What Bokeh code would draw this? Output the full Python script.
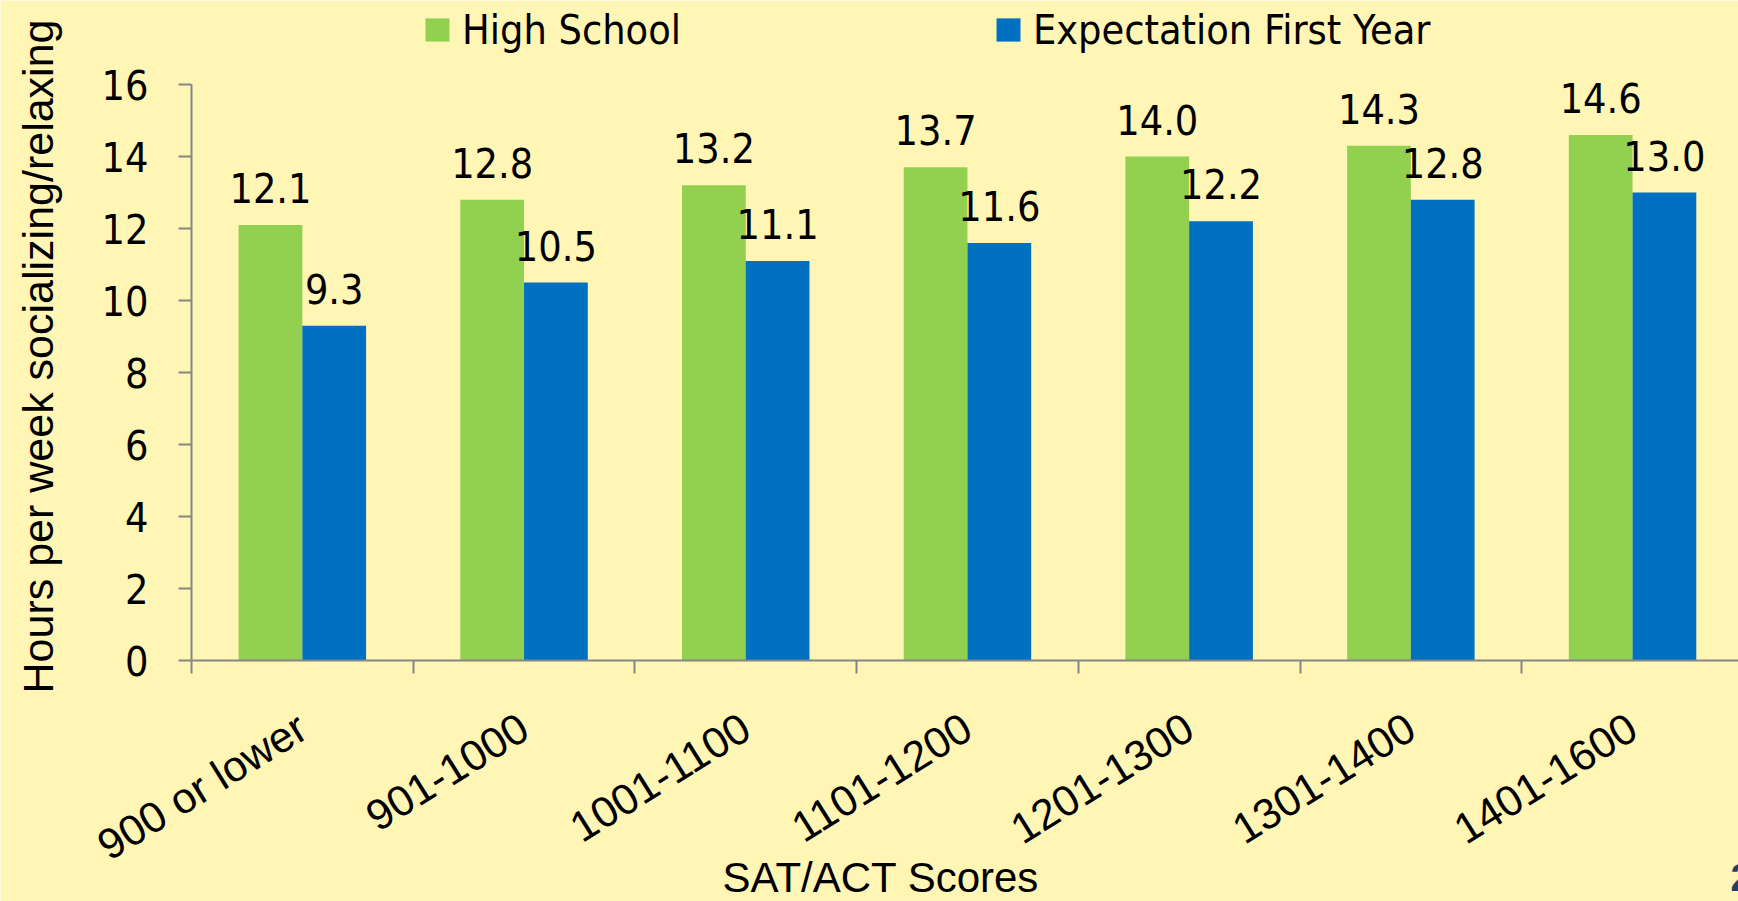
import math
from bokeh.plotting import figure
from bokeh.models import Range1d, FixedTicker, Legend, LegendItem, Label
from bokeh.embed import file_html
from bokeh.resources import INLINE
from bokeh.core.properties import value

categories = ["900 or lower", "901-1000", "1001-1100", "1101-1200",
              "1201-1300", "1301-1400", "1401-1600"]
high_school = [12.1, 12.8, 13.2, 13.7, 14.0, 14.3, 14.6]
expectation = [9.3, 10.5, 11.1, 11.6, 12.2, 12.8, 13.0]
y_ticks = [0, 2, 4, 6, 8, 10, 12, 14, 16]
series_names = ["High School", "Expectation First Year"]
x_title = "SAT/ACT Scores"
y_title = "Hours per week socializing/relaxing"
slide_number = "2"

BG = "#FFF5B5"
GREEN = "#92D050"
BLUE = "#0070C0"
AXIS = "#868686"
NUM_FONT = "DejaVu Sans Condensed"
TXT_FONT = "Liberation Sans"

W, H = 1738, 901
AX_LEFT, AX_BOTTOM, AX_TOP = 191, 660, 84     # pixel layout of the value/category axes
CAT_PX = 221.7                                # pixels per category
Y_PX = (AX_BOTTOM - AX_TOP) / 16              # pixels per hour

bar_w = 0.2875
centers = [i + 0.5 for i in range(len(categories))]
hs_x = [c - bar_w / 2 for c in centers]
ex_x = [c + bar_w / 2 for c in centers]

x_end = (W - AX_LEFT) / CAT_PX
p = figure(width=W, height=H, output_backend="svg", toolbar_location=None,
           x_range=Range1d(-AX_LEFT / CAT_PX, x_end),
           y_range=Range1d(-(H - AX_BOTTOM) / Y_PX, 16 + AX_TOP / Y_PX),
           min_border_left=0, min_border_right=0, min_border_top=0, min_border_bottom=0,
           background_fill_color=BG, border_fill_color=BG, outline_line_color=None)
p.grid.visible = False

r1 = p.vbar(x=hs_x, top=high_school, width=bar_w, fill_color=GREEN, line_color=None)
r2 = p.vbar(x=ex_x, top=expectation, width=bar_w, fill_color=BLUE, line_color=None)

for xs, vals in ((hs_x, high_school), (ex_x, expectation)):
    p.text(x=xs, y=vals, text=[f"{v:.1f}" for v in vals], text_align="center",
           text_baseline="middle", y_offset=-37, text_font=value(NUM_FONT),
           text_font_size="41px", text_color="black")

legend = Legend(items=[LegendItem(label=series_names[0], renderers=[r1]),
                       LegendItem(label=series_names[1], renderers=[r2])],
                orientation="horizontal", location=(422, 847.5),
                padding=0, margin=0, spacing=312, border_line_color=None,
                background_fill_alpha=0, glyph_width=30, glyph_height=29,
                label_standoff=10, label_height=29,
                label_text_font=NUM_FONT, label_text_font_size="41px",
                label_text_color="black")
p.add_layout(legend)

# y axis (drawn at x = 0)
ya = p.yaxis[0]
ya.fixed_location = 0
ya.bounds = (0, 16)
ya.ticker = FixedTicker(ticks=y_ticks)
ya.axis_line_color = AXIS
ya.axis_line_width = 2
ya.major_tick_line_color = AXIS
ya.major_tick_line_width = 2
ya.major_tick_out = 13
ya.major_tick_in = 0
ya.minor_tick_line_color = None
ya.major_label_text_font = NUM_FONT
ya.major_label_text_font_size = "41px"
ya.major_label_text_color = "black"
ya.major_label_standoff = 30

# x axis (drawn at y = 0)
xa = p.xaxis[0]
xa.fixed_location = 0
xa.bounds = (0, x_end)
xa.ticker = FixedTicker(ticks=centers, minor_ticks=list(range(len(categories) + 1)))
xa.major_label_overrides = {c: cat for c, cat in zip(centers, categories)}
xa.major_label_orientation = 32 * math.pi / 180
xa.major_label_text_font = TXT_FONT
xa.major_label_text_font_size = "43px"
xa.major_label_text_color = "black"
xa.major_label_standoff = 50
xa.major_tick_line_color = None
xa.major_tick_out = 0
xa.major_tick_in = 0
xa.minor_tick_line_color = AXIS
xa.minor_tick_line_width = 2
xa.minor_tick_out = 13
xa.minor_tick_in = 0
xa.axis_line_color = AXIS
xa.axis_line_width = 2

# axis titles and slide number
p.add_layout(Label(x=722, y=24, x_units="screen", y_units="screen", text=x_title,
                   text_align="left", text_baseline="middle", text_font=TXT_FONT,
                   text_font_size="42px", text_color="black"))
p.add_layout(Label(x=37, y=545, x_units="screen", y_units="screen", text=y_title,
                   angle=math.pi / 2, text_align="center", text_baseline="middle",
                   text_font=TXT_FONT, text_font_size="43px", text_color="black"))
p.add_layout(Label(x=1730, y=24, x_units="screen", y_units="screen", text=slide_number,
                   text_align="left", text_baseline="middle", text_font=TXT_FONT,
                   text_font_size="38px", text_font_style="bold", text_color="#1F3F6F"))

open("out.html", "w").write(file_html(p, INLINE))
